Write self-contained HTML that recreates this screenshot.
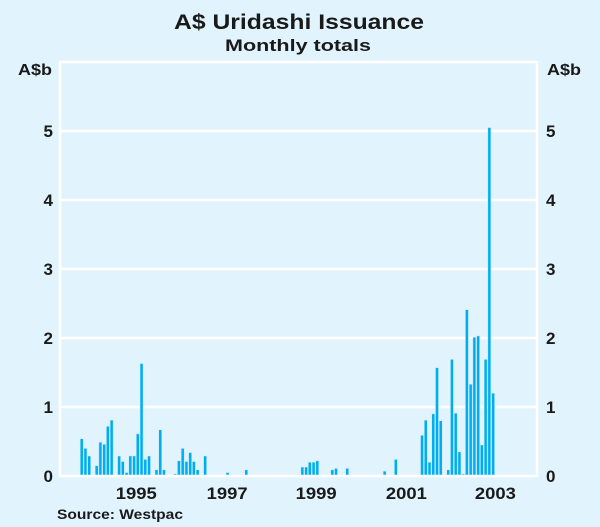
<!DOCTYPE html>
<html><head><meta charset="utf-8"><style>
html,body{margin:0;padding:0;background:#e1f3fd;}
svg{display:block;font-family:"Liberation Sans",Arial,sans-serif;}
</style></head><body>
<svg width="600" height="527" viewBox="0 0 600 527">
<rect x="0" y="0" width="600" height="527" fill="#e1f3fd"/>
<text x="299" y="29" text-anchor="middle" font-size="21" font-weight="bold" fill="#1a1a1a" textLength="250" lengthAdjust="spacingAndGlyphs">A$ Uridashi Issuance</text>
<text x="298" y="51" text-anchor="middle" font-size="17" font-weight="bold" fill="#1a1a1a" textLength="146" lengthAdjust="spacingAndGlyphs">Monthly totals</text>
<text x="52" y="75" text-anchor="end" font-size="16" font-weight="bold" fill="#1a1a1a" textLength="34" lengthAdjust="spacingAndGlyphs">A$b</text>
<text x="547" y="75" text-anchor="start" font-size="16" font-weight="bold" fill="#1a1a1a" textLength="34" lengthAdjust="spacingAndGlyphs">A$b</text>
<g id="grid"></g>
<g id="bars"></g>
<g id="frame"></g>
<g id="labels"></g>
<text x="57" y="519" font-size="14" font-weight="bold" fill="#1a1a1a" textLength="126" lengthAdjust="spacingAndGlyphs">Source: Westpac</text>
</svg>
<script>
const monthIndex=[0,1,2,4,5,6,7,8,10,11,12,13,14,15,16,17,18,20,21,22,25,26,27,28,29,30,31,33,39,44,59,60,61,62,63,67,68,71,81,84,91,92,93,94,95,96,98,99,100,101,102,103,104,105,106,107,108,109,110];
const issuance=[0.54,0.40,0.29,0.15,0.49,0.46,0.72,0.81,0.29,0.21,0.05,0.29,0.29,0.61,1.63,0.24,0.29,0.09,0.67,0.09,0.03,0.22,0.40,0.21,0.34,0.21,0.09,0.29,0.05,0.09,0.13,0.13,0.20,0.20,0.22,0.09,0.11,0.11,0.07,0.24,0.59,0.81,0.20,0.90,1.57,0.80,0.09,1.69,0.91,0.35,0.03,2.41,1.33,2.01,2.03,0.45,1.69,5.05,1.20];
const yTicks=[0,1,2,3,4,5];
const yearLabels=["1995","1997","1999","2001","2003"];
const yearLabelMonth=[14.6,38.9,62.7,86.8,110.6];

const NS="http://www.w3.org/2000/svg";
const L=60,R=537,T=62,B=476;
function yScale(v){return B-v*69;}
function xScale(k){return 81.7+k*3.74;}
function mk(tag,attrs,parent){const e=document.createElementNS(NS,tag);for(const k in attrs)e.setAttribute(k,attrs[k]);parent.appendChild(e);return e;}
const grid=document.getElementById('grid'),bars=document.getElementById('bars'),frame=document.getElementById('frame'),labels=document.getElementById('labels');
yTicks.forEach(t=>{
 if(t>0){const g=mk('line',{x1:L,x2:R,y1:yScale(t),y2:yScale(t),stroke:'#ffffff','stroke-width':2.5},grid);
 
 }
 const a=mk('text',{x:53,y:yScale(t)+6,'text-anchor':'end','font-size':17,'font-weight':'bold',fill:'#1a1a1a'},labels);a.textContent=t;
 
 
 const b=mk('text',{x:546,y:yScale(t)+6,'text-anchor':'start','font-size':17,'font-weight':'bold',fill:'#1a1a1a'},labels);b.textContent=t;
 
 
});
monthIndex.forEach((k,i)=>{
 const v=issuance[i],x=xScale(k),y=yScale(v);
 const r=mk('rect',{x:x-1.5,y:y,width:3,height:B-y,fill:'#00aeef',stroke:'#c8ecfb','stroke-width':0.5},bars);
 
 
});
const f=mk('path',{d:`M${L},${T} L${R},${T} L${R},${B} L${L},${B} Z`,fill:'none',stroke:'#ffffff','stroke-width':2.5},frame);


yearLabels.forEach((s,i)=>{
 const t=mk('text',{x:xScale(yearLabelMonth[i]),y:499,'text-anchor':'middle','font-size':17,'font-weight':'bold',fill:'#1a1a1a',textLength:41,lengthAdjust:'spacingAndGlyphs'},labels);t.textContent=s;
 
 
});
</script>
</body></html>
